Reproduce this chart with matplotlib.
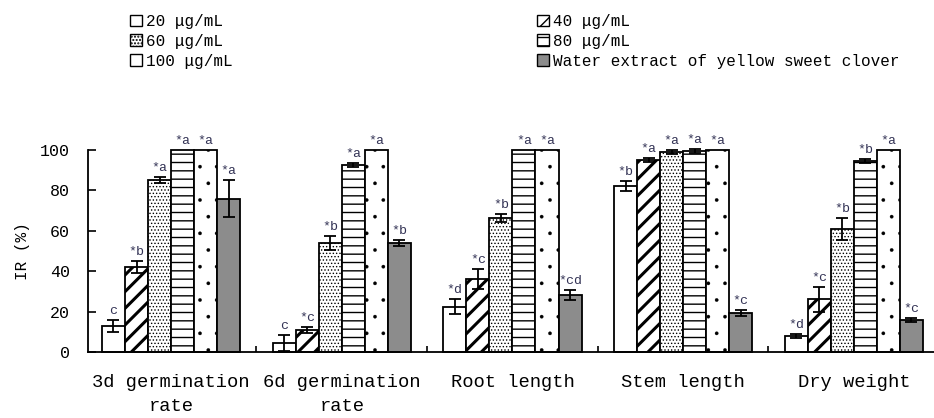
import numpy as np
import matplotlib
matplotlib.use("Agg")
import matplotlib.pyplot as plt
from matplotlib.patches import Patch

categories = ["3d germination\nrate", "6d germination\nrate", "Root length",
              "Stem length", "Dry weight"]
series = ["20 μg/mL", "40 μg/mL", "60 μg/mL", "80 μg/mL", "100 μg/mL",
          "Water extract of yellow sweet clover"]

ir_20 = [13, 4.5, 22.5, 82, 8]
ir_40 = [42, 11, 36, 95, 26]
ir_60 = [85, 54, 66.5, 99, 61]
ir_80 = [100, 92.5, 100, 99.5, 94.5]
ir_100 = [100, 100, 100, 100, 100]
ir_water = [76, 54, 28, 19.5, 16]

err_20 = [3, 4, 3.5, 2.5, 1]
err_40 = [3, 1.5, 5, 1, 6]
err_60 = [1.5, 3.5, 2, 1, 5.5]
err_80 = [0, 1, 0, 1, 1]
err_100 = [0, 0, 0, 0, 0]
err_water = [9, 1.5, 2.5, 1.5, 1]

sig_20 = ["c", "c", "*d", "*b", "*d"]
sig_40 = ["*b", "*c", "*c", "*a", "*c"]
sig_60 = ["*a", "*b", "*b", "*a", "*b"]
sig_80 = ["*a", "*a", "*a", "*a", "*b"]
sig_100 = ["*a", "*a", "*a", "*a", "*a"]
sig_water = ["*a", "*b", "*cd", "*c", "*c"]

values = [ir_20, ir_40, ir_60, ir_80, ir_100, ir_water]
errors = [err_20, err_40, err_60, err_80, err_100, err_water]
signs = [sig_20, sig_40, sig_60, sig_80, sig_100, sig_water]
hatches = ["", "//", ".....", "--", ".", ""]
legend_hatches = ["", "//", ".....", "--", "", ""]
hatch_lw = [1.0, 2.2, 0.6, 1.0, 0.2, 1.0]
faces = ["white", "white", "white", "white", "white", "#8c8c8c"]

plt.rcParams["font.family"] = ["Liberation Mono", "DejaVu Sans Mono"]

fig = plt.figure(figsize=(9.34, 4.18), dpi=100)
ax = fig.add_axes([0.0942, 0.158, 0.9058, 0.483])

x = np.arange(len(categories))
width = 0.135
for i in range(6):
    pos = x + (i - 2.5) * width
    plt.rcParams["hatch.linewidth"] = hatch_lw[i]
    ax.bar(pos, values[i], width, color=faces[i], edgecolor="black",
           linewidth=1.3, hatch=hatches[i], zorder=2, clip_on=False)
    e = np.array(errors[i])
    keep = e > 0
    if keep.any():
        ax.errorbar(pos[keep], np.array(values[i])[keep], yerr=e[keep], fmt="none",
                    ecolor="black", elinewidth=1.3, capsize=4, capthick=1.3,
                    zorder=3, clip_on=False)
    for p, v, er, s in zip(pos, values[i], errors[i], signs[i]):
        ax.text(p, v + er + 1.5, s, ha="center", va="bottom", fontsize=9.5,
                color="#333355", clip_on=False)

ax.set_xlim(-0.487, 4.47)
ax.set_ylim(0, 100)
ax.set_yticks(range(0, 101, 20))
ax.set_xticks(x)
ax.set_xticklabels(categories, fontsize=13.5, linespacing=1.5)
ax.set_xticks([0.5, 1.5, 2.5, 3.5], minor=True)
ax.tick_params(axis="x", which="major", length=0, pad=16)
ax.tick_params(axis="x", which="minor", direction="in", length=4, width=1.2)
ax.tick_params(axis="y", direction="in", length=5.5, width=1.2, labelsize=12, pad=13)
ax.spines["top"].set_visible(False)
ax.spines["right"].set_visible(False)
ax.spines["left"].set_linewidth(1.3)
ax.spines["bottom"].set_linewidth(1.3)
ax.set_ylabel("IR (%)", fontsize=11.5, labelpad=7)

handles = []
for i in range(6):
    plt.rcParams["hatch.linewidth"] = min(hatch_lw[i], 1.2)
    handles.append(Patch(facecolor=faces[i], edgecolor="black",
                         hatch=legend_hatches[i], label=series[i]))

leg_kw = dict(frameon=False, fontsize=11.5, handlelength=0.75, handleheight=0.75,
              handletextpad=0.25, labelspacing=0.3, borderpad=0)
leg1 = fig.legend(handles=[handles[0], handles[2], handles[4]], loc="upper left",
                  bbox_to_anchor=(122 / 934, 1 - 6 / 418), **leg_kw)
leg2 = fig.legend(handles=[handles[1], handles[3], handles[5]], loc="upper left",
                  bbox_to_anchor=(529 / 934, 1 - 6 / 418), **leg_kw)

fig.savefig("out.png", dpi=100)
